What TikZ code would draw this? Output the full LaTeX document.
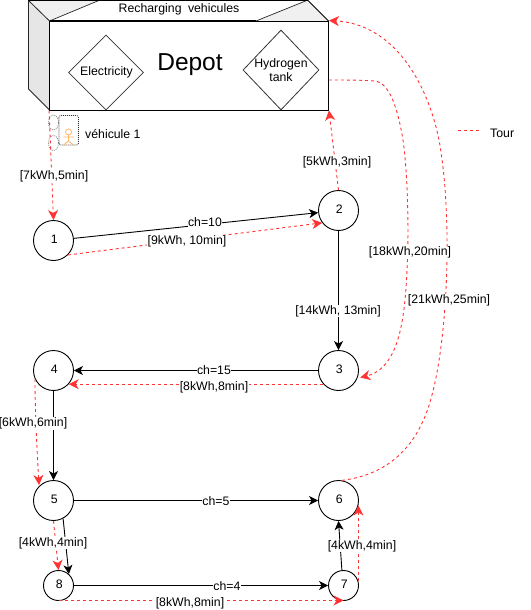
\documentclass[tikz,border=0pt]{standalone}
\usepackage{fontspec}
\setmainfont{Liberation Sans}
\usetikzlibrary{arrows.meta,shapes.geometric,calc}
\definecolor{tourred}{HTML}{FF3333}
\definecolor{facegrey}{HTML}{E6E6E6}
\definecolor{topgrey}{HTML}{F0F0F0}
\definecolor{wheelgrey}{HTML}{808080}
\definecolor{actor}{HTML}{FFB366}
\newcommand{\stopnum}[1]{\hspace*{1.5pt}\raisebox{3pt}{#1}}
\tikzset{
  x=1pt,y=-1pt,
  every node/.style={font=\fontsize{12.3}{14.5}\selectfont},
  stopnode/.style={circle,draw,line width=0.9pt,inner sep=0pt,minimum size=#1},
  stopnode/.default=40pt,
  flow/.style={draw=black,line width=0.9pt,-{Stealth[length=9pt,width=9pt,inset=2.5pt]}},
  tour/.style={draw=tourred,line width=0.9pt,dash pattern=on 3pt off 3pt,-{Stealth[length=10pt,width=10pt,inset=3pt,fill=tourred]}},
  lbl/.style={fill=white,inner sep=0.5pt,text=black},
  plain/.style={inner sep=0pt},
  store/.style={diamond,draw=black!80,line width=0.8pt,inner sep=0pt},
  depotbox/.style={rectangle,draw=black,line width=0.9pt,inner sep=0pt,minimum width=279pt,minimum height=89pt},
}
\begin{document}
\begin{tikzpicture}
\useasboundingbox (0,0) rectangle (530,610);
% 3D depot box
\fill[white] (28,0) -- (308,0) -- (328.5,21) -- (49.5,21) -- cycle;
\fill[topgrey] (28,0) -- (100,0) -- (49.5,21) -- cycle;
\fill[topgrey] (308,0) -- (328.5,21) -- (256,21) -- cycle;
\draw[black!85,line width=0.7pt] (49.5,21) -- (100,0) (256,21) -- (308,0);
\filldraw[fill=facegrey,draw=black!85,line width=0.8pt] (28.5,0.5) -- (49.5,21) -- (49.5,110) -- (28.5,89) -- cycle;
\draw[black,line width=0.9pt] (28.5,0.5) -- (308,0.5) -- (328.5,21);
\draw[black,line width=1.6pt] (49.5,20.5) -- (256,20.5);
\node[depotbox] (depot) at (189,65.5) {};
\node[plain,font=\fontsize{24.5}{28}\selectfont] (depottxt) at (190,64.5) {Depot};
\node[plain] (rech) at (179,9.5) {Recharging\hspace{3pt} vehicules};
% stores
\node[store,minimum width=75pt,minimum height=75pt] (elec) at (106,72.5) {};
\node[plain] (electxt) at (106.5,72.5) {Electricity};
\node[store,minimum width=76pt,minimum height=80pt] (hyd) at (281,70) {};
\node[plain,align=center] (hydtxt) at (281,70) {Hydrogen\\tank};
% vehicle
\node[ellipse,draw=wheelgrey,dash pattern=on 1pt off 1pt,line width=0.7pt,inner sep=0pt,minimum width=10pt,minimum height=15pt] (w1) at (53.5,122.5) {};
\node[ellipse,draw=wheelgrey,dash pattern=on 1pt off 1pt,line width=0.7pt,inner sep=0pt,minimum width=10pt,minimum height=15pt] (w2) at (53.5,143) {};
\draw[black!80,dash pattern=on 1pt off 1pt,line width=0.7pt,rounded corners=2pt] (59,115.5) rectangle (78.5,145);
\draw[actor,line width=0.8pt] (68.5,132) circle (3) (68.5,135) -- (68.5,141) (63.5,137) -- (73.5,137) (63.5,145) -- (68.5,141) -- (73.5,145);
\node[plain,anchor=west] (veh) at (85,134) {véhicule 1};
% stops
\node[stopnode] (n1) at (53.5,240.5) {\stopnum{1}};
\node[stopnode] (n2) at (338.5,210.5) {\stopnum{2}};
\node[stopnode] (n3) at (338.5,370.5) {\stopnum{3}};
\node[stopnode] (n4) at (53.5,370.5) {\stopnum{4}};
\node[stopnode] (n5) at (53.5,500.5) {\stopnum{5}};
\node[stopnode] (n6) at (338.5,500.5) {\stopnum{6}};
\node[stopnode=30pt] (n7) at (343.5,585.5) {\stopnum{7}};
\node[stopnode=30pt] (n8) at (58.5,585.5) {\stopnum{8}};
% black flows
\draw[flow] (n1.6) -- (n2.186);
\draw[flow] (n2) -- (n3);
\draw[flow] (n3) -- (n4);
\draw[flow] (n4) -- (n5);
\draw[flow] (n5) -- (n6);
\draw[flow] (n5.-62) -- (n8.48);
\draw[flow] (n8) -- (n7);
\draw[flow] (n7.96) -- (n6.-90);
% tour
\coordinate (hydout) at ($(depot.east)+(0,14.5)$);
\coordinate (n3in) at ($(n3.-20)+(2.5,0)$);
\coordinate (n7out) at ($(n7.east)+(-0.5,-5)$);
\coordinate (n6in) at ($(n7out)+(0,-75)$);
\coordinate (n8out) at ($(n8.south)+(0,-0.5)$);
\coordinate (n7in) at ($(n7.south)+(0,-0.5)$);
\draw[tour] (depot.south west) -- (n1.north);
\draw[tour] (n1.-45) -- (n2.217);
\draw[tour] (n2.north) -- (depot.south east);
\draw[tour] (hydout) .. controls (345,80) and (362,80) .. (375,81)
  .. controls (390,83) and (398,110) .. (403,140)
  .. controls (408,175) and (409,235) .. (407,270)
  .. controls (405,315) and (400,368) .. (n3in);
\draw[tour] (n6.80) .. controls (385,475) and (418,450) .. (432,395)
  .. controls (449,330) and (452,210) .. (439,140)
  .. controls (428,85) and (395,24) .. (depot.north east);
\draw[tour] (n3.222) -- (n4.-42);
\draw[tour] (n4.205) .. controls (35,410) and (37,450) .. (39,485);
\draw[tour] (n5.-90) -- (n8.north);
\draw[tour] (n8out) -- (n7in);
\draw[tour] (n7out) -- (n6in);
% legend
\coordinate (legA) at (458,130);
\coordinate (legB) at (479,130);
\draw[draw=tourred,line width=0.9pt,dash pattern=on 3pt off 3pt] (legA) -- (legB);
\node[plain,anchor=west] (legt) at (490,133.5) {Tour};
% labels
\node[lbl] (l1) at (54,176.5) {[7kWh,5min]};
\node[lbl] (l2) at (205,222) {ch=10};
\node[lbl] (l3) at (187,241) {[9kWh, 10min]};
\node[lbl] (l4) at (337,162.5) {[5kWh,3min]};
\node[lbl] (l5) at (338,311) {[14kWh, 13min]};
\node[lbl] (l6) at (410,252.5) {[18kWh,20min]};
\node[lbl] (l7) at (449,300.5) {[21kWh,25min]};
\node[lbl] (l8) at (214,370.5) {ch=15};
\node[lbl] (l9) at (214,387.5) {[8kWh,8min]};
\node[lbl] (l10) at (33,423.5) {[6kWh,6min]};
\node[lbl] (l11) at (216,501.5) {ch=5};
\node[lbl] (l12) at (53,543) {[4kWh,4min]};
\node[lbl] (l13) at (362,546) {[4kWh,4min]};
\node[lbl] (l14) at (227,586) {ch=4};
\node[lbl] (l15) at (190,603) {[8kWh,8min]};
\end{tikzpicture}
\end{document}
